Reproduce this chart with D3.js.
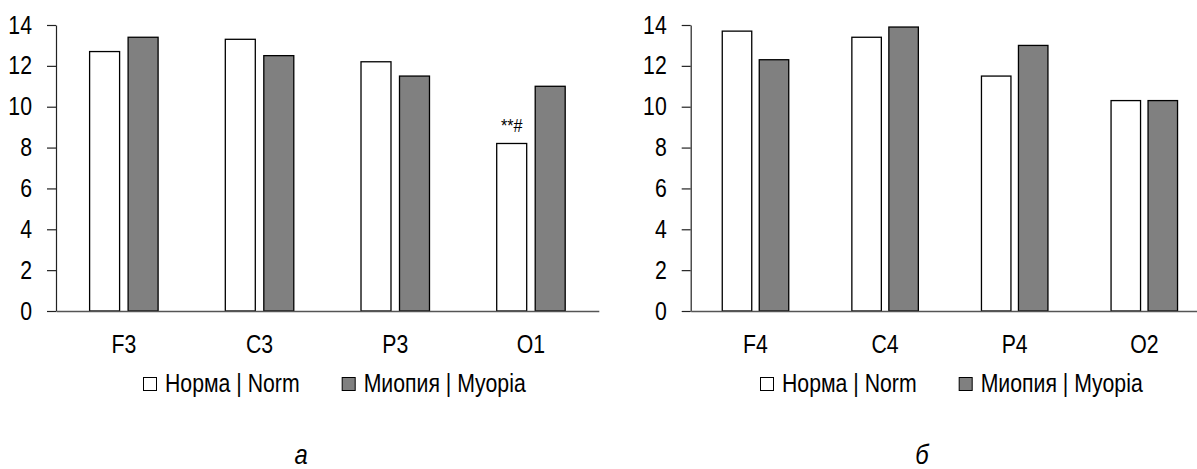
<!DOCTYPE html>
<html>
<head>
<meta charset="utf-8">
<script src="https://cdn.jsdelivr.net/npm/d3@7"></script>
<style>
  html, body { margin: 0; padding: 0; background: #fff; }
  svg { display: block; }
  text { font-family: "Liberation Sans", Arial, sans-serif; fill: #000; }
</style>
</head>
<body>
<svg id="chart" width="1197" height="469"></svg>
<script>
// ---- data ----
const categoriesA = ["F3", "C3", "P3", "O1"];
const normA = [12.7, 13.3, 12.2, 8.2];
const myopiaA = [13.4, 12.5, 11.5, 11.0];

const categoriesB = ["F4", "C4", "P4", "O2"];
const normB = [13.7, 13.4, 11.5, 10.3];
const myopiaB = [12.3, 13.9, 13.0, 10.3];

const seriesKeys = ["norm", "myopia"];
const seriesNames = ["Норма | Norm", "Миопия | Myopia"];
const yTicks = [0, 2, 4, 6, 8, 10, 12, 14];
const panelLabels = ["а", "б"];
const annotationA = { category: "O1", series: "norm", text: "**#" };

// ---- layout ----
const svg = d3.select("#chart");
const fill = { norm: "#ffffff", myopia: "#808080" };
const FONT = 25;
const SX = 0.85; // horizontal condensing (narrow face look)

// condense a text element horizontally around its own local origin
function condense(sel) {
  sel.each(function () {
    const t = d3.select(this);
    const x = +(t.attr("x") || 0);
    t.attr("x", x / SX).attr("transform", `scale(${SX},1)`);
  });
}

const panels = [
  { cats: categoriesA, norm: normA, myopia: myopiaA, x0: 56, band: 135.7,
    pin: 0.221, pout: 0.873, legendX: 143, label: panelLabels[0], labelX: 301,
    annot: annotationA },
  { cats: categoriesB, norm: normB, myopia: myopiaB, x0: 690.7, band: 129.6,
    pin: 0.203, pout: 0.853, legendX: 760, label: panelLabels[1], labelX: 922,
    annot: null }
];

const y = d3.scaleLinear().domain([0, 14]).range([311, 25]);

panels.forEach(p => {
  const g = svg.append("g");
  const x = d3.scaleBand().domain(p.cats)
    .range([p.x0, p.x0 + p.band * p.cats.length]).padding(0);
  const x1 = d3.scaleBand().domain(seriesKeys)
    .range([0, x.bandwidth()]).paddingInner(p.pin).paddingOuter(p.pout);

  const rows = p.cats.map((c, i) => ({ cat: c, norm: p.norm[i], myopia: p.myopia[i] }));

  // bars
  const grp = g.selectAll("g.cat").data(rows).join("g")
    .attr("class", "cat")
    .attr("transform", d => `translate(${x(d.cat)},0)`);
  grp.selectAll("rect").data(d => seriesKeys.map(k => ({ key: k, value: d[k], cat: d.cat }))).join("rect")
    .attr("x", d => x1(d.key))
    .attr("y", d => y(d.value))
    .attr("width", x1.bandwidth())
    .attr("height", d => y(0) - y(d.value))
    .attr("fill", d => fill[d.key])
    .attr("stroke", "#000")
    .attr("stroke-width", 1.3);

  // annotation
  if (p.annot) {
    const a = p.annot;
    const val = p[a.series][p.cats.indexOf(a.category)];
    g.append("text")
      .attr("x", x(a.category) + x1(a.series) + x1.bandwidth() / 2)
      .attr("y", y(val) - 11)
      .attr("text-anchor", "middle")
      .style("font-size", "19px")
      .text(a.text)
      .call(condense);
  }

  // y axis
  const yAxis = d3.axisLeft(y).tickValues(yTicks).tickSize(9).tickSizeOuter(0).tickPadding(15);
  const ya = g.append("g").attr("transform", `translate(${p.x0},0)`).call(yAxis);
  ya.select(".domain").attr("stroke", "#222").attr("stroke-width", 1.2);
  ya.selectAll(".tick line").attr("stroke", "#222").attr("stroke-width", 1.2);
  ya.selectAll(".tick text").style("font-size", FONT + "px").attr("fill", "#000").call(condense);
  ya.attr("font-family", null);

  // x axis
  const xAxis = d3.axisBottom(x).tickSize(0).tickPadding(24);
  const xa = g.append("g").attr("transform", `translate(0,${y(0)})`).call(xAxis);
  xa.select(".domain").attr("stroke", "#555").attr("stroke-width", 1.6);
  xa.selectAll(".tick text").style("font-size", FONT + "px").attr("fill", "#000").call(condense);
  xa.attr("font-family", null);

  // legend
  const lg = g.append("g").attr("transform", `translate(${p.legendX},0)`);
  let cx = 0;
  seriesKeys.forEach((k, i) => {
    lg.append("rect")
      .attr("x", cx + 0.5).attr("y", 377.5)
      .attr("width", 13).attr("height", 13)
      .attr("fill", fill[k]).attr("stroke", "#000").attr("stroke-width", 1);
    const t = lg.append("text")
      .attr("x", cx + 22).attr("y", 392)
      .style("font-size", FONT + "px")
      .text(seriesNames[i]);
    const w = t.node().getComputedTextLength() * SX;
    t.call(condense);
    cx += 22 + w + 42;
  });

  // panel label
  g.append("text")
    .attr("x", p.labelX).attr("y", 464)
    .attr("text-anchor", "middle")
    .style("font-size", "28px")
    .style("font-style", "italic")
    .text(p.label)
    .call(condense);
});
</script>
</body>
</html>
